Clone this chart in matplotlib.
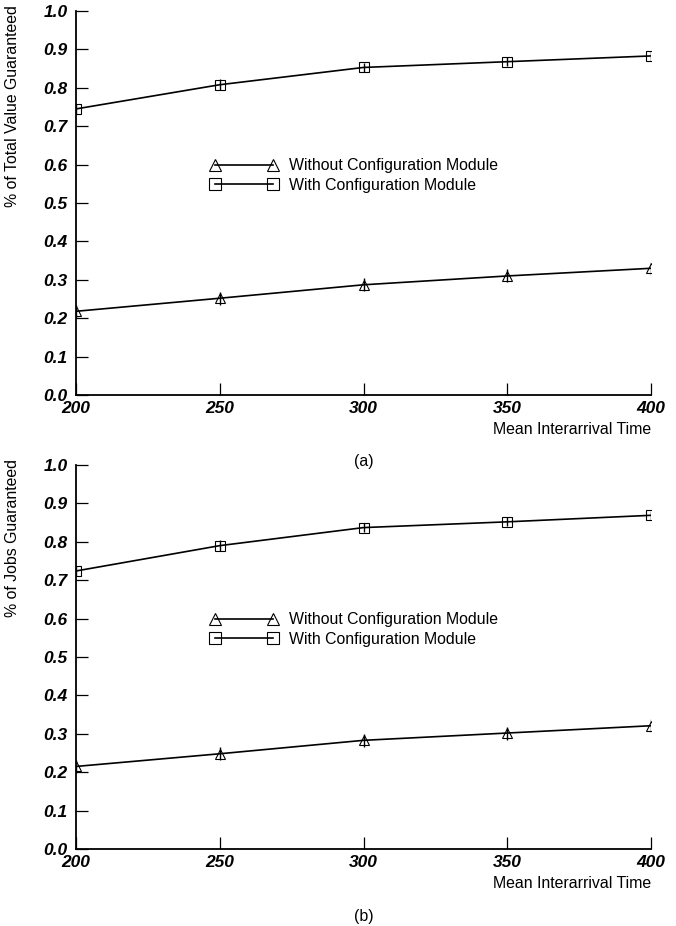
import matplotlib
matplotlib.use("Agg")
import matplotlib.pyplot as plt
from matplotlib.lines import Line2D

plt.rcParams['font.family'] = ['Liberation Sans', 'DejaVu Sans']

x_vals = [200, 250, 300, 350, 400]
x_ticks = [200, 250, 300, 350, 400]
y_ticks = [0.0, 0.1, 0.2, 0.3, 0.4, 0.5, 0.6, 0.7, 0.8, 0.9, 1.0]

# Panel (a): % of Total Value Guaranteed
a_without = [0.218, 0.252, 0.287, 0.310, 0.330]
a_without_err = [0.017, 0.017, 0.017, 0.017, 0.017]
a_with = [0.745, 0.808, 0.853, 0.868, 0.883]
a_with_err = [0.012, 0.014, 0.012, 0.012, 0.012]

# Panel (b): % of Jobs Guaranteed
b_without = [0.215, 0.248, 0.283, 0.302, 0.321]
b_without_err = [0.017, 0.017, 0.017, 0.017, 0.017]
b_with = [0.724, 0.790, 0.837, 0.852, 0.869]
b_with_err = [0.012, 0.014, 0.012, 0.012, 0.012]

labels = ["Without Configuration Module", "With Configuration Module"]
ylabels = ["% of Total Value Guaranteed", "% of Jobs Guaranteed"]
panel_tags = ["(a)", "(b)"]
xlabel = "Mean Interarrival Time"

W, H = 676, 926
fig = plt.figure(figsize=(W / 100, H / 100), dpi=100)

left_px, right_px = 76, 651
panels = [(11, 395), (465, 849)]  # top px, bottom px

datasets = [
    (a_without, a_without_err, a_with, a_with_err),
    (b_without, b_without_err, b_with, b_with_err),
]

FS = 11.4
TFS = 12.5

for i, ((top_px, bot_px), (wo, wo_e, wi, wi_e)) in enumerate(zip(panels, datasets)):
    ax = fig.add_axes([left_px / W, 1 - bot_px / H,
                       (right_px - left_px) / W, (bot_px - top_px) / H])
    ax.errorbar(x_vals, wo, yerr=wo_e, color='black', lw=1.2,
                marker='^', ms=7.5, mfc='none', mec='black', mew=0.8,
                elinewidth=1.0, capsize=0, zorder=3)
    ax.errorbar(x_vals, wi, yerr=wi_e, color='black', lw=1.2,
                marker='s', ms=7, mfc='none', mec='black', mew=0.8,
                elinewidth=1.0, capsize=0, zorder=3)
    ax.set_xlim(200, 400)
    ax.set_ylim(0, 1.0)
    ax.set_xticks(x_ticks)
    ax.set_yticks(y_ticks)
    ax.set_xticklabels([str(t) for t in x_ticks], fontsize=TFS,
                       fontweight='bold', fontstyle='italic')
    ax.set_yticklabels([f"{t:.1f}" for t in y_ticks], fontsize=TFS,
                       fontweight='bold', fontstyle='italic')
    for s in ['top', 'right']:
        ax.spines[s].set_visible(False)
    for s in ['left', 'bottom']:
        ax.spines[s].set_linewidth(1.3)
    ax.tick_params(direction='in', length=8.5, width=0.9, pad=4)
    ax.tick_params(axis='y', pad=6)
    ax.set_xlabel(xlabel, fontsize=FS, loc='right', labelpad=5)
    ax.set_ylabel(ylabels[i], fontsize=FS, loc='top')
    ax.yaxis.set_label_coords((20 - left_px) / (right_px - left_px), 1.015)
    handles = [
        Line2D([], [], color='black', lw=1.2, marker='^', ms=8.5,
               mfc='none', mec='black', mew=0.8),
        Line2D([], [], color='black', lw=1.2, marker='s', ms=8,
               mfc='none', mec='black', mew=0.8),
    ]
    ax.legend(handles, labels, loc='upper left', bbox_to_anchor=(0.233, 0.617),
              frameon=False, numpoints=2, handlelength=4.25,
              handletextpad=0.72, labelspacing=0.3, fontsize=FS,
              borderaxespad=0, borderpad=0)
    fig.text((left_px + right_px) / 2 / W, 1 - (bot_px + 67) / H, panel_tags[i],
             ha='center', va='center', fontsize=FS)

fig.savefig("out.png", dpi=100)
